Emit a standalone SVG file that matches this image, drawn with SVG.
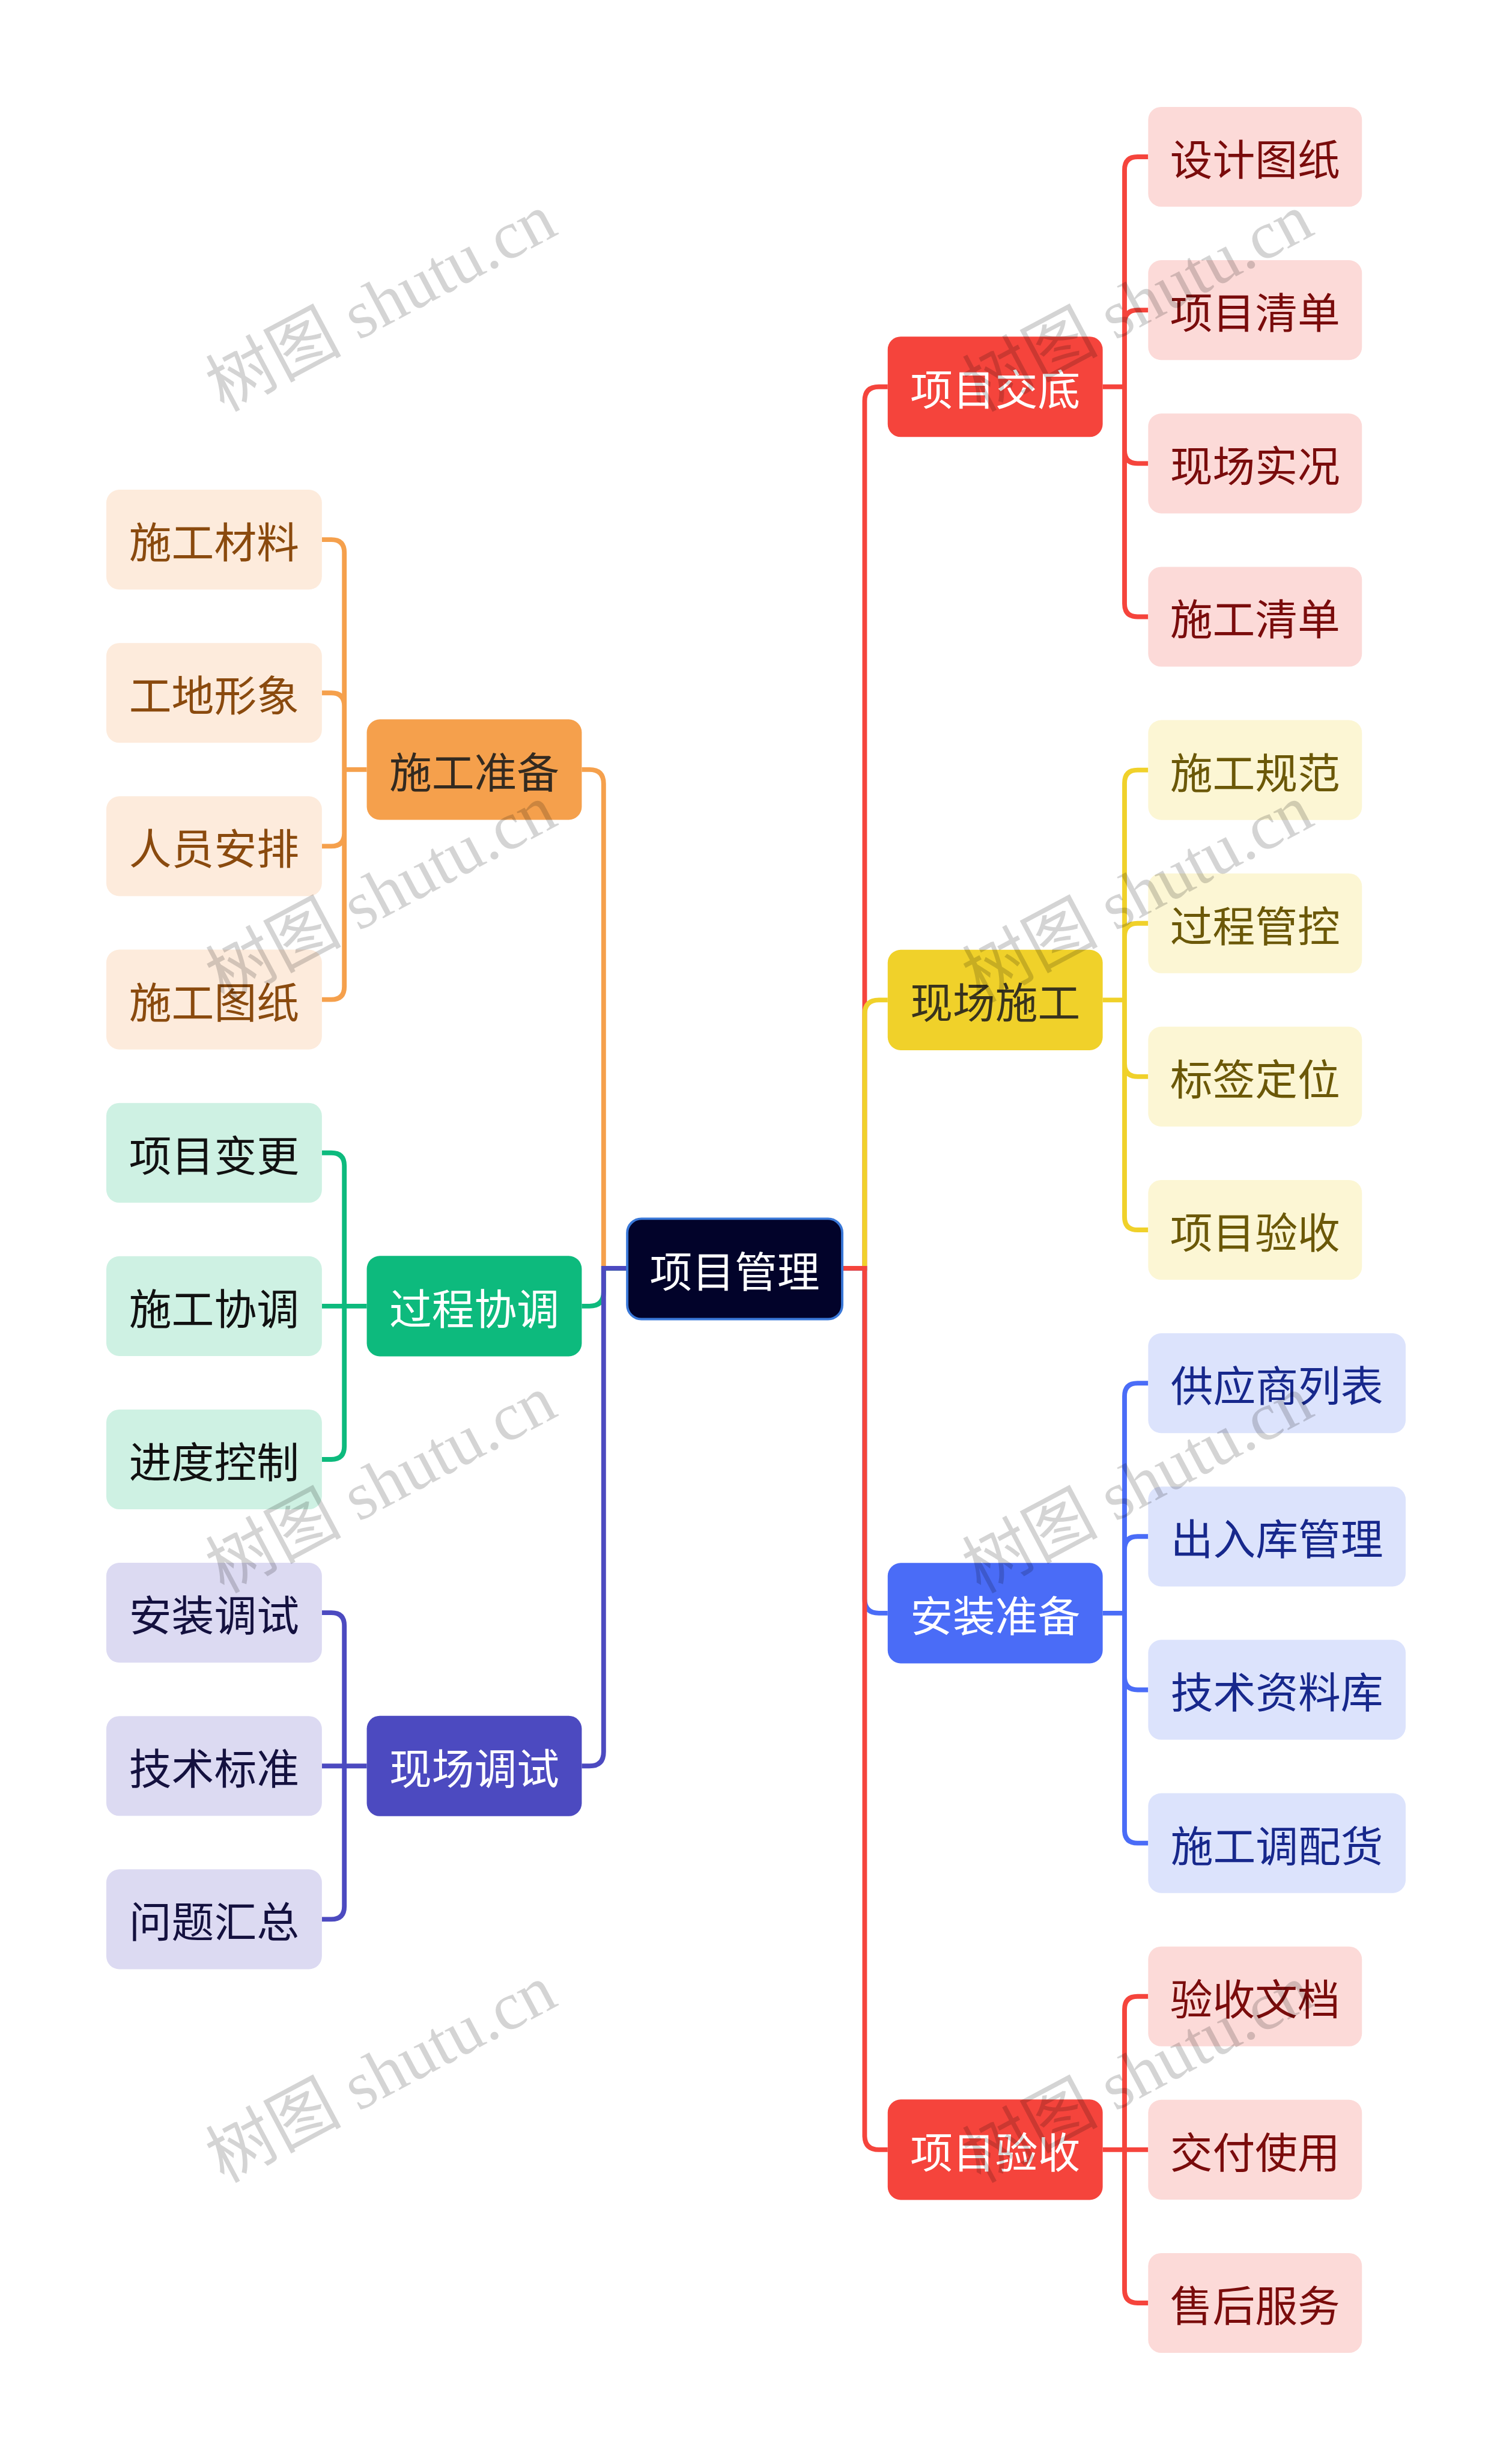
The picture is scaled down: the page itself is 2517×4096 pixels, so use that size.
<svg xmlns="http://www.w3.org/2000/svg" width="2517" height="4096" viewBox="0 0 2517 4096">
<style>
text{font-family:"Noto Sans CJK SC","Noto Sans",sans-serif;font-size:72px;text-anchor:middle;dominant-baseline:central}
.c{fill:none;stroke-width:8}
.wm{font-family:"Liberation Serif","Noto Sans CJK SC",serif;font-size:115px;fill:#000;fill-opacity:0.17;text-anchor:middle;dominant-baseline:central}
.r1{fill:#F5443C}.r2{fill:#FCDAD8}.tr2{fill:#7A0C0C}
.y1{fill:#F0D12A}.y2{fill:#FCF6D4}.ty1{fill:#38331E}.ty2{fill:#6B5808}
.b1{fill:#4A6CF7}.b2{fill:#DCE3FC}.tb2{fill:#17288C}
.o1{fill:#F5A04C}.o2{fill:#FDEBDC}.to1{fill:#332A20}.to2{fill:#8A4A0E}
.g1{fill:#0DBA7D}.g2{fill:#CEF1E3}.tg2{fill:#111111}
.p1{fill:#4C4AC0}.p2{fill:#DCDAF2}.tp2{fill:#14113F}
.tw{fill:#FFFFFF}
</style>
<g transform="scale(0.9832)">
<g id="connectors">
<g stroke="#F5443C" class="c">
<path class="c" d="M1426 2147H1464V678.75Q1464 654.75 1488 654.75H1503"/>
<path class="c" d="M1867 654.75H1904V287.5Q1904 265.5 1926 265.5H1944M1867 654.75H1904V547Q1904 525 1926 525H1944M1867 654.75H1904V762.5Q1904 784.5 1926 784.5H1944M1867 654.75H1904V1022Q1904 1044 1926 1044H1944"/>
</g>
<g stroke="#F0D12A" class="c">
<path class="c" d="M1426 2147H1464V1716.75Q1464 1692.75 1488 1692.75H1503"/>
<path class="c" d="M1867 1692.75H1904V1325.5Q1904 1303.5 1926 1303.5H1944M1867 1692.75H1904V1585Q1904 1563 1926 1563H1944M1867 1692.75H1904V1800.5Q1904 1822.5 1926 1822.5H1944M1867 1692.75H1904V2060Q1904 2082 1926 2082H1944"/>
</g>
<g stroke="#4A6CF7" class="c">
<path class="c" d="M1426 2147H1464V2706.75Q1464 2730.75 1488 2730.75H1503"/>
<path class="c" d="M1867 2730.75H1904V2363.5Q1904 2341.5 1926 2341.5H1944M1867 2730.75H1904V2623Q1904 2601 1926 2601H1944M1867 2730.75H1904V2838.5Q1904 2860.5 1926 2860.5H1944M1867 2730.75H1904V3098Q1904 3120 1926 3120H1944"/>
</g>
<g stroke="#F5443C" class="c">
<path class="c" d="M1426 2147H1464V3615Q1464 3639 1488 3639H1503"/>
<path class="c" d="M1867 3639H1904V3401.5Q1904 3379.5 1926 3379.5H1944M1867 3639H1944M1867 3639H1904V3876.5Q1904 3898.5 1926 3898.5H1944"/>
</g>
<g stroke="#F5A04C" class="c">
<path class="c" d="M1062 2147H1022V1326.75Q1022 1302.75 998 1302.75H985"/>
<path class="c" d="M621 1302.75H583V935.5Q583 913.5 561 913.5H545M621 1302.75H583V1195Q583 1173 561 1173H545M621 1302.75H583V1410.5Q583 1432.5 561 1432.5H545M621 1302.75H583V1670Q583 1692 561 1692H545"/>
</g>
<g stroke="#0DBA7D" class="c">
<path class="c" d="M1062 2147H1022V2187Q1022 2211 998 2211H985"/>
<path class="c" d="M621 2211H583V1973.5Q583 1951.5 561 1951.5H545M621 2211H545M621 2211H583V2448.5Q583 2470.5 561 2470.5H545"/>
</g>
<g stroke="#4C4AC0" class="c">
<path class="c" d="M1062 2147H1022V2965.5Q1022 2989.5 998 2989.5H985"/>
<path class="c" d="M621 2989.5H583V2752Q583 2730 561 2730H545M621 2989.5H545M621 2989.5H583V3227Q583 3249 561 3249H545"/>
</g>
</g>
<g id="root"><rect x="1062" y="2063" width="364" height="170" rx="24" fill="#02032A" stroke="#3A78D8" stroke-width="4"/><text x="1244" y="2148" class="tw">项目管理</text></g>
<g id="n-jiaodi"><rect x="1503" y="569.75" width="364" height="170" rx="22" class="r1"/><text x="1685" y="654.75" class="tw">项目交底</text></g>
<g id="n-xianchang"><rect x="1503" y="1607.75" width="364" height="170" rx="22" class="y1"/><text x="1685" y="1692.75" class="ty1">现场施工</text></g>
<g id="n-anzhuang"><rect x="1503" y="2645.75" width="364" height="170" rx="22" class="b1"/><text x="1685" y="2730.75" class="tw">安装准备</text></g>
<g id="n-yanshou"><rect x="1503" y="3554" width="364" height="170" rx="22" class="r1"/><text x="1685" y="3639" class="tw">项目验收</text></g>
<g id="n-zhunbei"><rect x="621" y="1217.75" width="364" height="170" rx="22" class="o1"/><text x="803" y="1302.75" class="to1">施工准备</text></g>
<g id="n-xietiao"><rect x="621" y="2126" width="364" height="170" rx="22" class="g1"/><text x="803" y="2211" class="tw">过程协调</text></g>
<g id="n-tiaoshi"><rect x="621" y="2904.5" width="364" height="170" rx="22" class="p1"/><text x="803" y="2989.5" class="tw">现场调试</text></g>
<g id="r-1"><rect x="1944" y="181" width="362" height="169" rx="22" class="r2"/><text x="2125" y="265.5" class="tr2">设计图纸</text></g>
<g id="r-2"><rect x="1944" y="440.5" width="362" height="169" rx="22" class="r2"/><text x="2125" y="525" class="tr2">项目清单</text></g>
<g id="r-3"><rect x="1944" y="700" width="362" height="169" rx="22" class="r2"/><text x="2125" y="784.5" class="tr2">现场实况</text></g>
<g id="r-4"><rect x="1944" y="959.5" width="362" height="169" rx="22" class="r2"/><text x="2125" y="1044" class="tr2">施工清单</text></g>
<g id="r-5"><rect x="1944" y="1219" width="362" height="169" rx="22" class="y2"/><text x="2125" y="1303.5" class="ty2">施工规范</text></g>
<g id="r-6"><rect x="1944" y="1478.5" width="362" height="169" rx="22" class="y2"/><text x="2125" y="1563" class="ty2">过程管控</text></g>
<g id="r-7"><rect x="1944" y="1738" width="362" height="169" rx="22" class="y2"/><text x="2125" y="1822.5" class="ty2">标签定位</text></g>
<g id="r-8"><rect x="1944" y="1997.5" width="362" height="169" rx="22" class="y2"/><text x="2125" y="2082" class="ty2">项目验收</text></g>
<g id="r-9"><rect x="1944" y="2257" width="436" height="169" rx="22" class="b2"/><text x="2162" y="2341.5" class="tb2">供应商列表</text></g>
<g id="r-10"><rect x="1944" y="2516.5" width="436" height="169" rx="22" class="b2"/><text x="2162" y="2601" class="tb2">出入库管理</text></g>
<g id="r-11"><rect x="1944" y="2776" width="436" height="169" rx="22" class="b2"/><text x="2162" y="2860.5" class="tb2">技术资料库</text></g>
<g id="r-12"><rect x="1944" y="3035.5" width="436" height="169" rx="22" class="b2"/><text x="2162" y="3120" class="tb2">施工调配货</text></g>
<g id="r-13"><rect x="1944" y="3295" width="362" height="169" rx="22" class="r2"/><text x="2125" y="3379.5" class="tr2">验收文档</text></g>
<g id="r-14"><rect x="1944" y="3554.5" width="362" height="169" rx="22" class="r2"/><text x="2125" y="3639" class="tr2">交付使用</text></g>
<g id="r-15"><rect x="1944" y="3814" width="362" height="169" rx="22" class="r2"/><text x="2125" y="3898.5" class="tr2">售后服务</text></g>
<g id="l-1"><rect x="180" y="829" width="365" height="169" rx="22" class="o2"/><text x="362.5" y="913.5" class="to2">施工材料</text></g>
<g id="l-2"><rect x="180" y="1088.5" width="365" height="169" rx="22" class="o2"/><text x="362.5" y="1173" class="to2">工地形象</text></g>
<g id="l-3"><rect x="180" y="1348" width="365" height="169" rx="22" class="o2"/><text x="362.5" y="1432.5" class="to2">人员安排</text></g>
<g id="l-4"><rect x="180" y="1607.5" width="365" height="169" rx="22" class="o2"/><text x="362.5" y="1692" class="to2">施工图纸</text></g>
<g id="l-5"><rect x="180" y="1867" width="365" height="169" rx="22" class="g2"/><text x="362.5" y="1951.5" class="tg2">项目变更</text></g>
<g id="l-6"><rect x="180" y="2126.5" width="365" height="169" rx="22" class="g2"/><text x="362.5" y="2211" class="tg2">施工协调</text></g>
<g id="l-7"><rect x="180" y="2386" width="365" height="169" rx="22" class="g2"/><text x="362.5" y="2470.5" class="tg2">进度控制</text></g>
<g id="l-8"><rect x="180" y="2645.5" width="365" height="169" rx="22" class="p2"/><text x="362.5" y="2730" class="tp2">安装调试</text></g>
<g id="l-9"><rect x="180" y="2905" width="365" height="169" rx="22" class="p2"/><text x="362.5" y="2989.5" class="tp2">技术标准</text></g>
<g id="l-10"><rect x="180" y="3164.5" width="365" height="169" rx="22" class="p2"/><text x="362.5" y="3249" class="tp2">问题汇总</text></g>
<g id="watermarks">
<text class="wm" transform="translate(645 512) rotate(-28)">树图 shutu.cn</text>
<text class="wm" transform="translate(645 1512) rotate(-28)">树图 shutu.cn</text>
<text class="wm" transform="translate(645 2512) rotate(-28)">树图 shutu.cn</text>
<text class="wm" transform="translate(645 3510) rotate(-28)">树图 shutu.cn</text>
<text class="wm" transform="translate(1926 512) rotate(-28)">树图 shutu.cn</text>
<text class="wm" transform="translate(1926 1512) rotate(-28)">树图 shutu.cn</text>
<text class="wm" transform="translate(1926 2512) rotate(-28)">树图 shutu.cn</text>
<text class="wm" transform="translate(1926 3510) rotate(-28)">树图 shutu.cn</text>
</g>
</g>
</svg>
